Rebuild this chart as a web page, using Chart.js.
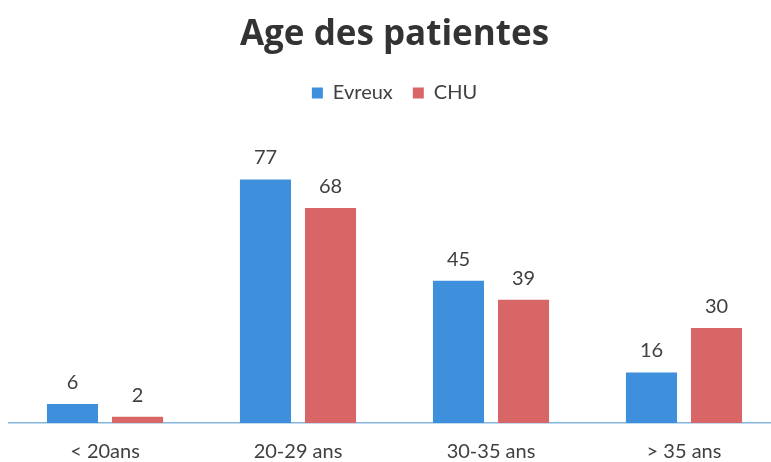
<!DOCTYPE html>
<html>
<head>
<meta charset="utf-8">
<script src="https://cdn.jsdelivr.net/npm/chart.js@4"></script>
<style>
html,body{margin:0;padding:0;background:#fff;overflow:hidden;width:771px;height:462px;}
canvas{display:block;}
</style>
</head>
<body>
<canvas id="c" width="790" height="462"></canvas>
<script>
const categories = ["< 20ans", "20-29 ans", "30-35 ans", "> 35 ans"];
const evreux = [6, 77, 45, 16];
const chu = [2, 68, 39, 30];
const seriesNames = ["Evreux", "CHU"];

const labelPlugin = {
  id: 'valueLabels',
  afterDatasetsDraw(chart) {
    const ctx = chart.ctx;
    ctx.save();
    ctx.font = '20px Lato, "Open Sans", sans-serif';
    ctx.fillStyle = '#404040';
    ctx.textAlign = 'center';
    ctx.textBaseline = 'alphabetic';
    chart.data.datasets.forEach((ds, i) => {
      const meta = chart.getDatasetMeta(i);
      meta.data.forEach((bar, j) => {
        ctx.fillText(String(ds.data[j]), bar.x, bar.y - 15);
      });
    });
    ctx.restore();
  }
};

new Chart(document.getElementById('c'), {
  type: 'bar',
  data: {
    labels: categories,
    datasets: [
      { label: seriesNames[0], data: evreux, backgroundColor: '#3e8fdc', categoryPercentage: 0.674, barPercentage: 0.785 },
      { label: seriesNames[1], data: chu, backgroundColor: '#d86666', categoryPercentage: 0.674, barPercentage: 0.785 }
    ]
  },
  options: {
    responsive: false,
    animation: false,
    layout: { padding: { left: 8.5, right: 9.5, top: 0, bottom: 0 } },
    plugins: {
      title: {
        display: true,
        text: 'Age des patientes',
        color: '#333333',
        font: { family: '"Open Sans", Lato, sans-serif', size: 35, weight: 'bold', lineHeight: 1.2 },
        padding: { top: 14, bottom: 7 }
      },
      legend: {
        display: true,
        labels: {
          color: '#404040',
          font: { family: 'Lato, "Open Sans", sans-serif', size: 20 },
          boxWidth: 11, boxHeight: 11, padding: 20
        }
      },
      tooltip: { enabled: false }
    },
    scales: {
      x: {
        grid: { display: false, drawTicks: false },
        border: { display: true, color: '#86b5dc', width: 1.5 },
        ticks: { color: '#404040', padding: 19, font: { family: 'Lato, "Open Sans", sans-serif', size: 20, lineHeight: 1 } },
        afterFit(scale) { scale.height = 39; }
      },
      y: {
        display: false,
        min: 0, max: 98
      }
    }
  },
  plugins: [labelPlugin]
});
</script>
</body>
</html>
